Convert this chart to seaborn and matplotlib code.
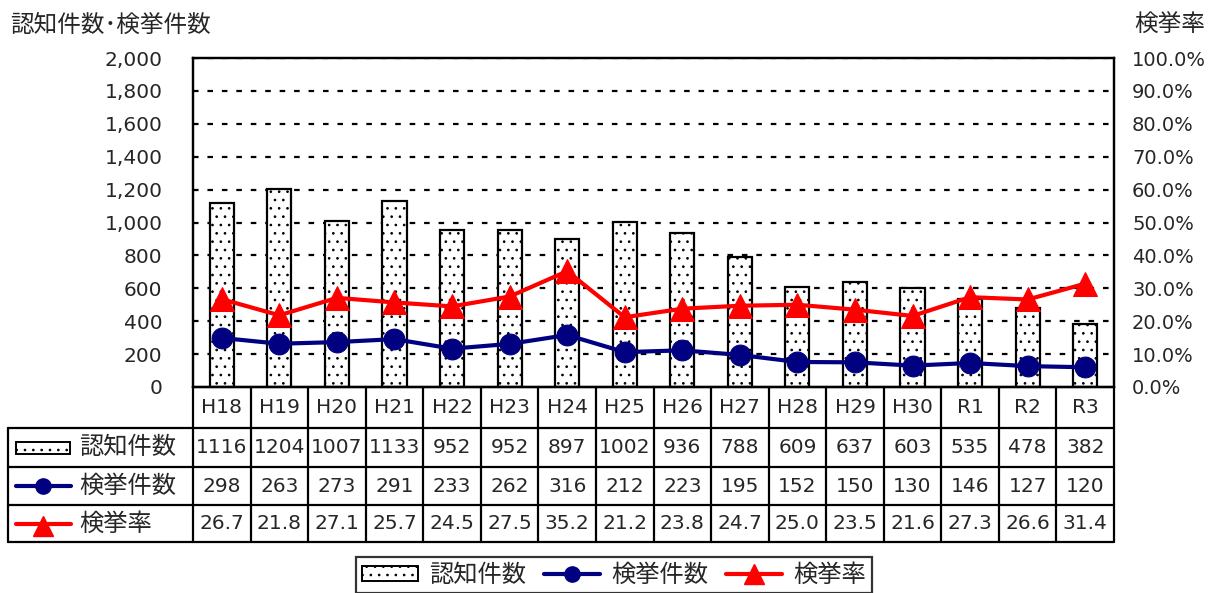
import numpy as np
import pandas as pd
import matplotlib
matplotlib.use("Agg")
import matplotlib.pyplot as plt
import matplotlib.transforms as mtransforms
from matplotlib.lines import Line2D
from matplotlib.patches import Rectangle, Patch
import seaborn as sns

years = ["H18", "H19", "H20", "H21", "H22", "H23", "H24", "H25", "H26", "H27",
         "H28", "H29", "H30", "R1", "R2", "R3"]
ninchi = [1116, 1204, 1007, 1133, 952, 952, 897, 1002, 936, 788, 609, 637, 603, 535, 478, 382]
kenkyo = [298, 263, 273, 291, 233, 262, 316, 212, 223, 195, 152, 150, 130, 146, 127, 120]
rate = [26.7, 21.8, 27.1, 25.7, 24.5, 27.5, 35.2, 21.2, 23.8, 24.7, 25.0, 23.5, 21.6, 27.3, 26.6, 31.4]
series_names = ["認知件数", "検挙件数", "検挙率"]
left_title = "認知件数･検挙件数"
right_title = "検挙率"

sns.set_theme(style="white")
plt.rcParams["font.family"] = ["DejaVu Sans", "Noto Sans CJK JP"]
plt.rcParams["hatch.linewidth"] = 0.7
plt.rcParams["hatch.color"] = "#333333"

NUM_FS = 14.5
JP_FS = 17.5
HATCH = ".."

W, H = 1208, 593
fig = plt.figure(figsize=(W / 100, H / 100), dpi=100)
ax = fig.add_axes([193 / W, 1 - 387 / H, (1114 - 193) / W, (387 - 58) / H])

df = pd.DataFrame({"year": years, "ninchi": ninchi, "kenkyo": kenkyo,
                   "rate": np.array(rate) / 100.0, "pos": np.arange(len(years))})

sns.barplot(data=df, x="year", y="ninchi", ax=ax, width=0.42, color="white",
            edgecolor="black", linewidth=1.6, hatch=HATCH, zorder=2)
sns.lineplot(data=df, x="pos", y="kenkyo", ax=ax, color="#000080", linewidth=3,
             marker="o", markersize=15, markeredgecolor="#000080", zorder=4)

ax.set_xlim(-0.5, len(years) - 0.5)
ax.set_ylim(0, 2000)
ax.set_yticks(np.arange(0, 2001, 200))
ax.set_yticklabels([f"{v:,}" for v in range(0, 2001, 200)], fontsize=NUM_FS)
ax.set_xticks([])
ax.set_xlabel("")
ax.set_ylabel("")
ax.tick_params(axis="y", length=0, pad=22)
for yv in range(200, 2001, 200):
    ax.axhline(yv, color="black", linestyle=(0, (2.5, 4)), linewidth=1.6, zorder=1)
for s in ax.spines.values():
    s.set_color("black")
    s.set_linewidth(1.6)

ax2 = ax.twinx()
sns.lineplot(data=df, x="pos", y="rate", ax=ax2, color="#FF0000", linewidth=3,
             marker="^", markersize=17, markeredgecolor="#FF0000", zorder=5)
ax2.set_ylim(0, 1.0)
ax2.set_yticks(np.arange(0, 1.01, 0.1))
ax2.set_yticklabels([f"{v:.1f}%" for v in np.arange(0, 101, 10)], fontsize=14)
ax2.tick_params(axis="y", length=0, pad=13)
ax2.set_ylabel("")
ax2.set_xlim(-0.5, len(years) - 0.5)
for s in ax2.spines.values():
    s.set_color("black")
    s.set_linewidth(1.6)
ax2.grid(False)

fig.text(10 / W, 1 - 25 / H, left_title, fontsize=17, va="center", ha="left")
fig.text(1205 / W, 1 - 25 / H, right_title, fontsize=17, va="center", ha="right")

# data table
tr = mtransforms.blended_transform_factory(ax.transData, fig.transFigure)
def fy(p):
    return 1 - p / H
def fx(p):
    return p / W

row_tops = [387, 428, 467, 505, 542]
lw = 1.6
n = len(years)
for i in range(n + 1):
    fig.add_artist(Line2D([i - 0.5, i - 0.5], [fy(387), fy(542)], transform=tr,
                          color="black", linewidth=lw))
for k, yy in enumerate(row_tops):
    x0 = 193 if k == 0 else 8
    fig.add_artist(Line2D([fx(x0), fx(1114)], [fy(yy), fy(yy)],
                          transform=fig.transFigure, color="black", linewidth=lw))
fig.add_artist(Line2D([fx(8), fx(8)], [fy(428), fy(542)],
                      transform=fig.transFigure, color="black", linewidth=lw))

rows = [years, [str(v) for v in ninchi], [str(v) for v in kenkyo], [f"{v:.1f}" for v in rate]]
for r, vals in enumerate(rows):
    yc = fy((row_tops[r] + row_tops[r + 1]) / 2)
    for i, v in enumerate(vals):
        fig.text(i, yc, v, transform=tr, ha="center", va="center", fontsize=NUM_FS)

for r in range(3):
    yc = (row_tops[r + 1] + row_tops[r + 2]) / 2
    if r == 0:
        fig.add_artist(Rectangle((fx(16), fy(yc + 6)), fx(54), 12 / H, transform=fig.transFigure,
                                 facecolor="white", edgecolor="black", linewidth=1.4, hatch=HATCH))
    else:
        color = "#000080" if r == 1 else "#FF0000"
        mk = "o" if r == 1 else "^"
        fig.add_artist(Line2D([fx(16), fx(71)], [fy(yc), fy(yc)], transform=fig.transFigure,
                              color=color, linewidth=3))
        fig.add_artist(Line2D([fx(43.5)], [fy(yc + (2 if r == 2 else 0))], transform=fig.transFigure,
                              color=color, marker=mk, markersize=11 if r == 1 else 14,
                              linestyle="none"))
    fig.text(fx(79), fy(yc), series_names[r], fontsize=JP_FS, ha="left", va="center")

handles = [Patch(facecolor="white", edgecolor="black", hatch=HATCH, linewidth=1.4),
           Line2D([], [], color="#000080", linewidth=3, marker="o", markersize=11),
           Line2D([], [], color="#FF0000", linewidth=3, marker="^", markersize=14)]
leg = fig.legend(handles, series_names, loc="upper center", ncol=3,
                 bbox_to_anchor=(614 / W, 1 - 557 / H), fontsize=JP_FS, frameon=True,
                 fancybox=False, handlelength=2.3, handleheight=0.55, handletextpad=0.45,
                 columnspacing=0.75, borderpad=0.25, borderaxespad=0)
leg.get_frame().set_edgecolor("black")
leg.get_frame().set_linewidth(1.6)

fig.savefig("out.png", dpi=100)
